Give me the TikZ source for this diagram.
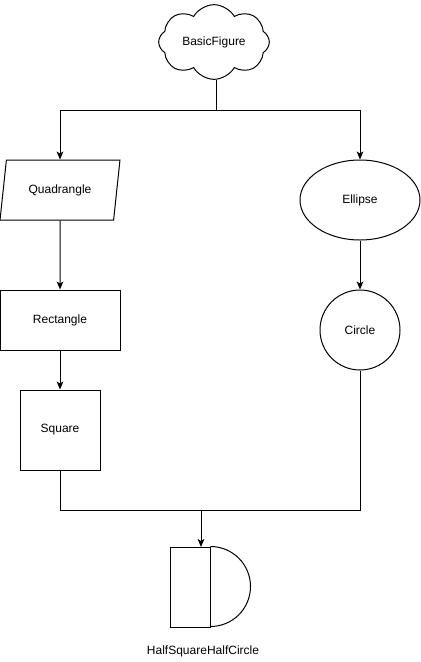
\documentclass[tikz,border=0pt]{standalone}
\usepackage{fontspec}
\setmainfont{Liberation Sans}
\usetikzlibrary{shapes.geometric,shapes.symbols,arrows.meta}
\begin{document}
\begin{tikzpicture}[x=0.75pt,y=-0.75pt,
  every node/.style={font=\fontsize{9pt}{11pt}\selectfont, line width=0.75pt},
  shapebox/.style={draw, inner sep=0pt},
  conn/.style={line width=0.75pt},
  arr/.style={conn, -{Stealth[length=6pt,width=5pt,inset=1.5pt]}}]
\useasboundingbox (0,0) rectangle (421,662);
\node[shapebox, cloud, cloud puffs=8, cloud puff arc=120, cloud ignores aspect,
  minimum width=83pt, minimum height=56pt] (basic) at (214,42) {BasicFigure};
\node[shapebox, trapezium, trapezium stretches=true, trapezium left angle=71.57,
  trapezium right angle=108.43, minimum width=90pt, minimum height=45pt] (quad) at (60,190) {Quadrangle};
\node[shapebox, rectangle, minimum width=90pt, minimum height=45pt] (rect) at (60,320) {Rectangle};
\node[shapebox, rectangle, minimum width=60pt, minimum height=60pt] (sq) at (60,430) {Square};
\node[shapebox, ellipse, minimum width=90pt, minimum height=60pt] (ell) at (360,200) {Ellipse};
\node[shapebox, circle, minimum size=60pt] (circ) at (360,330) {Circle};
\node[shapebox, rectangle, minimum width=30pt, minimum height=60pt] (hsq) at (190,587) {};
\draw[conn] (hsq.north east) arc[start angle=90, end angle=-90, radius=30pt];
\node (lbl) at (203,651) {HalfSquareHalfCircle};
\coordinate (j) at (216,110);
\coordinate (m) at (201,510);
\coordinate (hstop) at (201,547);
\draw[conn] (basic.south -| j) -- (j);
\draw[arr] (j) -| (quad.north);
\draw[arr] (j) -| (ell.north);
\draw[arr] (quad.south) -- (rect.north);
\draw[arr] (rect.south) -- (sq.north);
\draw[arr] (ell.south) -- (circ.north);
\draw[conn] (sq.south) |- (m);
\draw[conn] (circ.south) |- (m);
\draw[arr] (m) -- (hstop);
\end{tikzpicture}
\end{document}
